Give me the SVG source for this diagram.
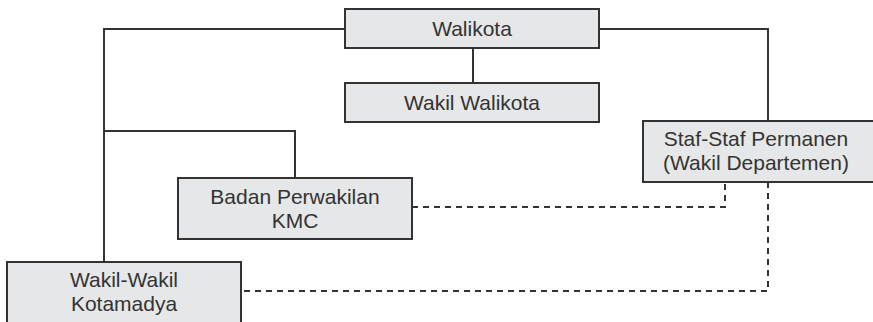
<svg xmlns="http://www.w3.org/2000/svg" width="873" height="322" viewBox="0 0 873 322">
  <style>
    .box { fill: #e6e7e8; stroke: #333; stroke-width: 2; }
    .lbl { font-family: "Liberation Sans", Arial, sans-serif; font-size: 21px; fill: #333; text-anchor: middle; }
    .solid { fill: none; stroke: #333; stroke-width: 2; }
    .dash { fill: none; stroke: #333; stroke-width: 2; stroke-dasharray: 6 5; }
  </style>
  <rect width="873" height="322" fill="#fff"/>
  <g id="connectors">
    <polyline class="solid" points="345,29 104,29 104,262"/>
    <polyline class="solid" points="104,131 295,131 295,178"/>
    <line class="solid" x1="473" y1="48" x2="473" y2="83"/>
    <polyline class="solid" points="599,29 768,29 768,121"/>
    <polyline class="dash" points="412,207 725,207 725,182"/>
    <polyline class="dash" points="768,182 768,291 241,291"/>
  </g>
  <g id="walikota">
    <rect class="box" x="345" y="9" width="254" height="39"/>
    <text class="lbl" x="472" y="36">Walikota</text>
  </g>
  <g id="wakil-walikota">
    <rect class="box" x="345" y="83" width="254" height="39"/>
    <text class="lbl" x="472" y="110">Wakil Walikota</text>
  </g>
  <g id="staf-permanen">
    <rect class="box" x="643" y="121" width="235" height="61"/>
    <text class="lbl" x="756" y="146">Staf-Staf Permanen</text>
    <text class="lbl" x="756" y="170">(Wakil Departemen)</text>
  </g>
  <g id="badan-perwakilan">
    <rect class="box" x="178" y="178" width="234" height="61"/>
    <text class="lbl" x="295" y="204">Badan Perwakilan</text>
    <text class="lbl" x="295" y="228">KMC</text>
  </g>
  <g id="wakil-kotamadya">
    <rect class="box" x="7" y="262" width="234" height="70"/>
    <text class="lbl" x="124" y="287">Wakil-Wakil</text>
    <text class="lbl" x="124" y="311">Kotamadya</text>
  </g>
</svg>
